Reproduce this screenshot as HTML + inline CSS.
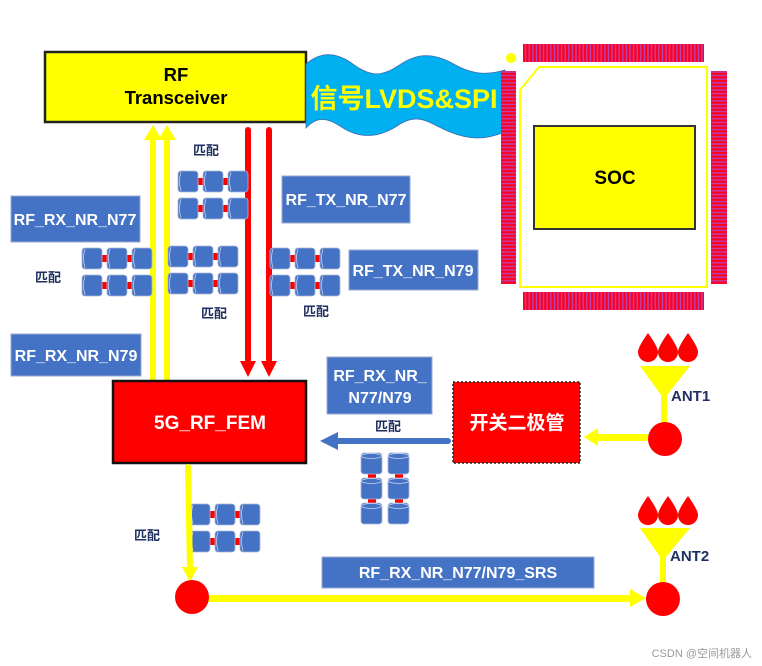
<!DOCTYPE html>
<html><head><meta charset="utf-8"><style>
html,body{margin:0;padding:0;background:#fff;width:762px;height:666px;overflow:hidden}
svg{display:block}
text{font-family:"Liberation Sans","Noto Sans CJK SC",sans-serif;font-weight:bold}
</style></head><body>
<svg width="762" height="666" viewBox="0 0 762 666" xmlns="http://www.w3.org/2000/svg">
<defs>
<pattern id="pv" width="3.6" height="20" patternUnits="userSpaceOnUse"><rect width="3.6" height="20" fill="#b04ac0"/><rect x="0.6" width="2.4" height="20" fill="#ff0020"/></pattern>
<pattern id="ph" width="20" height="3.6" patternUnits="userSpaceOnUse"><rect width="20" height="3.6" fill="#b04ac0"/><rect y="0.6" width="20" height="2.4" fill="#ff0020"/></pattern>
<g id="cyl"><rect x="0" y="0" width="20" height="21" rx="3" fill="#4472c4" stroke="#a9b8d8" stroke-width="0.8"/><path d="M3 1 Q0 10 3 20" fill="none" stroke="#c8d4ee" stroke-width="0.8"/></g>
<g id="cap3"><rect x="18" y="7" width="7" height="7" fill="#f00"/><rect x="43" y="7" width="7" height="7" fill="#f00"/><use href="#cyl" x="0"/><use href="#cyl" x="25"/><use href="#cyl" x="50"/></g>
<g id="cap2"><use href="#cap3" y="0"/><use href="#cap3" y="27"/></g>
<g id="vcyl"><rect x="0" y="0" width="21" height="21" rx="3" fill="#4472c4" stroke="#a9b8d8" stroke-width="0.8"/><ellipse cx="10.5" cy="3" rx="10" ry="2.5" fill="none" stroke="#c8d4ee" stroke-width="0.8"/></g>
<g id="drop"><path d="M0 -14 Q-10 0 -10 5 A10 10 0 0 0 10 5 Q10 0 0 -14Z" fill="#f00"/></g>
</defs>

<rect x="45" y="52" width="261" height="70" fill="#ff0" stroke="#222" stroke-width="2.5"/>
<text x="176" y="81" font-size="18.5" text-anchor="middle">RF</text>
<text x="176" y="104" font-size="18.5" text-anchor="middle">Transceiver</text>

<path d="M306 64 C320 52 335 52 350 62 C368 76 380 78 398 66 C415 54 430 52 450 62 C470 74 485 76 505 70 L505 132 C485 140 470 140 450 132 C430 124 420 112 400 124 C380 138 360 140 340 126 C325 116 315 118 306 128 Z" fill="#00b0f0" stroke="#3a6fb0" stroke-width="0.8"/>
<text x="404" y="108" font-size="27" fill="#ff0" text-anchor="middle">信号LVDS&amp;SPI</text>

<circle cx="511" cy="58" r="5" fill="#ff0"/>
<rect x="523" y="44" width="181" height="18" fill="url(#pv)"/>
<rect x="523" y="292" width="181" height="18" fill="url(#pv)"/>
<rect x="501" y="71" width="15" height="213" fill="url(#ph)"/>
<rect x="711" y="71" width="16" height="213" fill="url(#ph)"/>
<path d="M539 67 L707 67 L707 287 L520 287 L520 90 Z" fill="#fff" stroke="#ff0" stroke-width="2"/>
<rect x="534" y="126" width="161" height="103" fill="#ff0" stroke="#333" stroke-width="2"/>
<text x="615" y="184" font-size="19" text-anchor="middle">SOC</text>

<rect x="150" y="140" width="6" height="241" fill="#ff0"/>
<rect x="164" y="140" width="6" height="241" fill="#ff0"/>
<polygon points="144,140 153,125 162,140" fill="#ff0"/>
<polygon points="158,140 167,125 176,140" fill="#ff0"/>
<rect x="245" y="127" width="6" height="236" rx="3" fill="#f00"/>
<rect x="266" y="127" width="6" height="236" rx="3" fill="#f00"/>
<polygon points="240,361 248,377 256,361" fill="#f00"/>
<polygon points="261,361 269,377 277,361" fill="#f00"/>

<use href="#cap2" x="178" y="171"/>
<use href="#cap2" x="82" y="248"/>
<use href="#cap2" x="168" y="246"/>
<use href="#cap2" x="270" y="248"/>
<use href="#cap2" x="190" y="504"/>
<g>
<rect x="368" y="473" width="8" height="6" fill="#f00"/><rect x="368" y="498" width="8" height="6" fill="#f00"/>
<rect x="395" y="473" width="8" height="6" fill="#f00"/><rect x="395" y="498" width="8" height="6" fill="#f00"/>
<use href="#vcyl" x="361" y="453"/><use href="#vcyl" x="361" y="478"/><use href="#vcyl" x="361" y="503"/>
<use href="#vcyl" x="388" y="453"/><use href="#vcyl" x="388" y="478"/><use href="#vcyl" x="388" y="503"/>
</g>

<g fill="#4472c4" stroke="#9aaad0" stroke-width="1">
<rect x="11" y="196" width="129" height="46"/>
<rect x="282" y="176" width="128" height="47"/>
<rect x="349" y="250" width="129" height="40"/>
<rect x="11" y="334" width="130" height="42"/>
<rect x="327" y="357" width="105" height="57"/>
<rect x="322" y="557" width="272" height="31"/>
</g>
<g fill="#fff" font-size="16">
<text x="75" y="225" text-anchor="middle">RF_RX_NR_N77</text>
<text x="346" y="205" text-anchor="middle">RF_TX_NR_N77</text>
<text x="413" y="276" text-anchor="middle">RF_TX_NR_N79</text>
<text x="76" y="361" text-anchor="middle">RF_RX_NR_N79</text>
<text x="380" y="381" text-anchor="middle">RF_RX_NR_</text>
<text x="380" y="403" text-anchor="middle">N77/N79</text>
<text x="458" y="578" text-anchor="middle">RF_RX_NR_N77/N79_SRS</text>
</g>

<g fill="#1f3060" font-size="13">
<text x="206" y="155" text-anchor="middle">匹配</text>
<text x="48" y="282" text-anchor="middle">匹配</text>
<text x="214" y="318" text-anchor="middle">匹配</text>
<text x="316" y="316" text-anchor="middle">匹配</text>
<text x="388" y="431" text-anchor="middle">匹配</text>
<text x="147" y="540" text-anchor="middle">匹配</text>
</g>

<rect x="113" y="381" width="193" height="82" fill="#f00" stroke="#111" stroke-width="2.5"/>
<text x="210" y="429" font-size="19" fill="#fff" text-anchor="middle">5G_RF_FEM</text>

<rect x="453" y="382" width="127" height="81" fill="#f00" stroke="#222" stroke-width="1.5" stroke-dasharray="2,2"/>
<text x="517" y="429" font-size="19" fill="#fff" text-anchor="middle">开关二极管</text>

<line x1="448" y1="441" x2="334" y2="441" stroke="#4472c4" stroke-width="6" stroke-linecap="round"/>
<polygon points="320,441 338,432 338,450" fill="#4472c4"/>
<rect x="596" y="434" width="54" height="7" fill="#ff0"/>
<polygon points="584,437 598,428 598,446" fill="#ff0"/>

<use href="#drop" x="648" y="347"/><use href="#drop" x="668" y="347"/><use href="#drop" x="688" y="347"/>
<polygon points="640,366 690,366 667,395 661,395" fill="#ff0"/>
<rect x="661" y="393" width="6" height="32" fill="#ff0"/>
<circle cx="665" cy="439" r="17" fill="#f00"/>
<text x="671" y="401" font-size="15" fill="#1f3060">ANT1</text>

<use href="#drop" x="648" y="510"/><use href="#drop" x="668" y="510"/><use href="#drop" x="688" y="510"/>
<polygon points="640,528 690,528 666,557 660,557" fill="#ff0"/>
<rect x="660" y="555" width="6" height="30" fill="#ff0"/>
<circle cx="663" cy="599" r="17" fill="#f00"/>
<text x="670" y="561" font-size="15" fill="#1f3060">ANT2</text>

<line x1="188" y1="467" x2="190" y2="568" stroke="#ff0" stroke-width="6" stroke-linecap="round"/>
<polygon points="182,567 190,582 198,567" fill="#ff0"/>
<rect x="200" y="595" width="432" height="7" fill="#ff0"/>
<polygon points="630,589 646,598 630,607" fill="#ff0"/>
<circle cx="192" cy="597" r="17" fill="#f00"/>

<text x="752" y="657" font-size="11" fill="#999" text-anchor="end" style="font-weight:normal">CSDN @空间机器人</text>
</svg>
</body></html>
